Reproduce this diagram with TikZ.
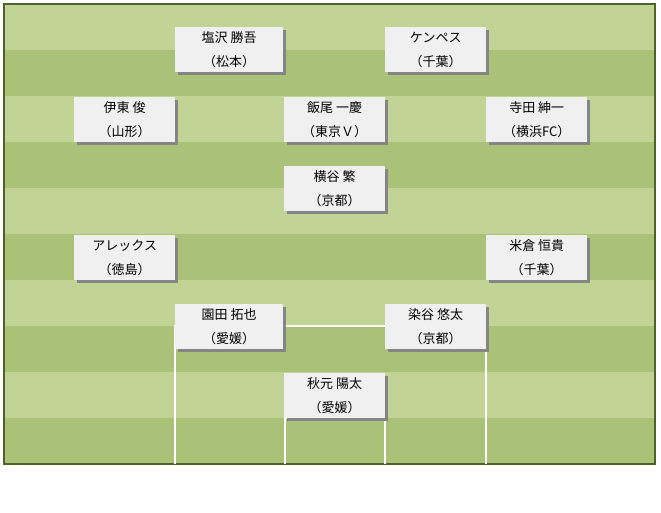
\documentclass[tikz,border=0pt]{standalone}
\usepackage{fontspec}
\newfontfamily\jpfont{Noto Sans CJK JP}
\usetikzlibrary{shadows}
\definecolor{turfA}{RGB}{193,212,150}
\definecolor{turfB}{RGB}{170,194,119}
\definecolor{edgeG}{RGB}{79,98,40}
\definecolor{card}{RGB}{240,240,240}
\tikzset{
  plr/.style    = {anchor=north west, fill=card, inner sep=0pt,
                   minimum height=45pt, align=center,
                   font=\jpfont\fontsize{13}{24}\selectfont,
                   drop shadow={shadow xshift=3pt, shadow yshift=-3pt,
                                fill=black!48, opacity=1}},
  plrw/.style   = {plr, minimum width=108pt},
  plrn/.style   = {plr, minimum width=101pt},
  chalk/.style  = {draw=white, line width=1.3pt},
}

\begin{document}
\begin{tikzpicture}[x=1pt,y=-1pt]
\useasboundingbox (0,0) rectangle (661,512);

% pitch stripes
\foreach \i in {0,...,9}{
  \pgfmathsetmacro\ytop{4+46*\i}
  \ifodd\i \def\tc{turfB}\else\def\tc{turfA}\fi
  \fill[\tc] (4,\ytop) rectangle (655,\ytop+46);
}
\draw[edgeG, line width=1.5pt] (4,4) rectangle (655,464);

% penalty and goal areas
\coordinate (pbL) at (175,464);
\coordinate (pbR) at (486,464);
\coordinate (gaL) at (285,464);
\coordinate (gaR) at (385,464);
\draw[chalk] (pbL) -- (175,326) -- (486,326) -- (pbR);
\draw[chalk] (gaL) -- (285,418) -- (385,418) -- (gaR);

% players
\node[plrw] (shiozawa) at (175,27)  {塩沢 勝吾\\（松本）};
\node[plrn] (kempes)   at (385,27)  {ケンペス\\（千葉）};
\node[plrn] (ito)      at (74,97)   {伊東 俊\\（山形）};
\node[plrn] (iio)      at (284,97)  {飯尾 一慶\\（東京Ｖ）};
\node[plrn] (terada)   at (486,97)  {寺田 紳一\\（横浜FC）};
\node[plrn] (yokotani) at (284,166) {横谷 繁\\（京都）};
\node[plrn] (alex)     at (74,235)  {アレックス\\（徳島）};
\node[plrn] (yonekura) at (486,235) {米倉 恒貴\\（千葉）};
\node[plrw] (sonoda)   at (175,304) {園田 拓也\\（愛媛）};
\node[plrn] (someya)   at (385,304) {染谷 悠太\\（京都）};
\node[plrn] (akimoto)  at (284,373) {秋元 陽太\\（愛媛）};
\end{tikzpicture}
\end{document}
